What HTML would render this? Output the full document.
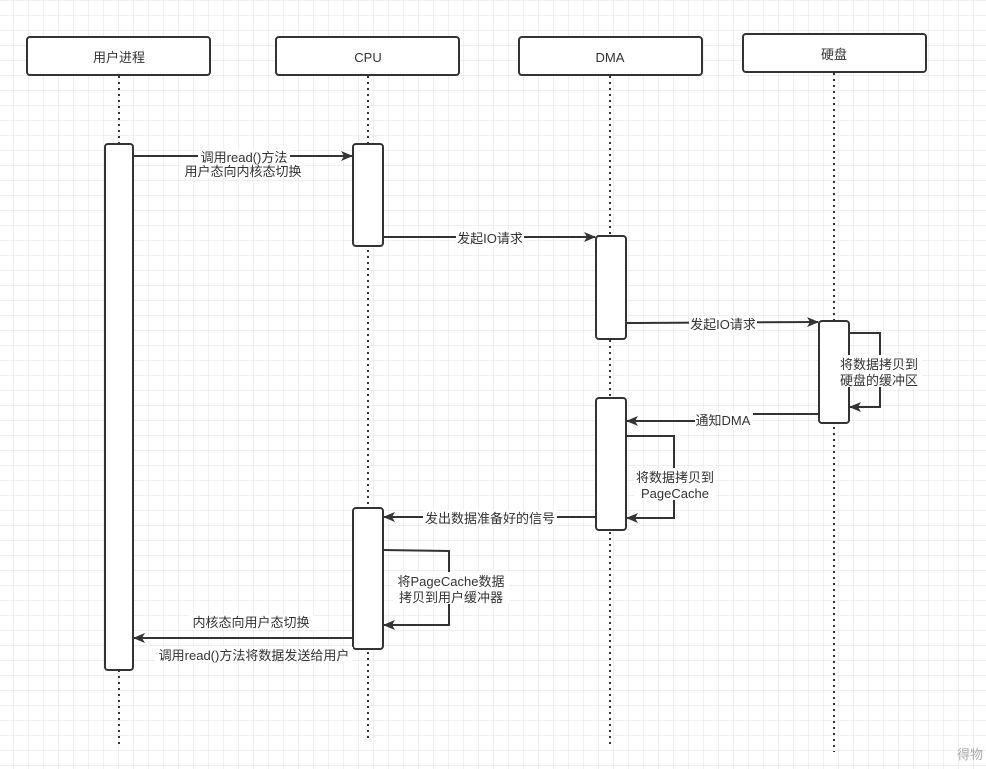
<!DOCTYPE html>
<html><head><meta charset="utf-8"><style>
html,body{margin:0;padding:0;background:#fff;}
svg{display:block;}
text{font-family:"Liberation Sans","Noto Sans CJK SC",sans-serif;font-size:13px;fill:#333;}
</style></head><body>
<svg width="986" height="769" viewBox="0 0 986 769" xmlns="http://www.w3.org/2000/svg">
<defs>
<pattern id="g" width="15" height="15" patternUnits="userSpaceOnUse" x="-1" y="1">
<path d="M15 0V15M0 15H15" fill="none" stroke="#e2e2e2" stroke-width="1"/>
</pattern>
<marker id="a" markerWidth="12" markerHeight="10" refX="11" refY="5" orient="auto" markerUnits="userSpaceOnUse">
<path d="M0,0 L12,5 L0,10 L3,5 Z" fill="#333"/>
</marker>
</defs>
<rect width="986" height="769" fill="url(#g)"/>
<g stroke="#333" stroke-width="2" fill="#fff">
<g stroke-dasharray="2,4">
<line x1="119" y1="76" x2="119" y2="745"/>
<line x1="368" y1="76" x2="368" y2="740"/>
<line x1="610" y1="76" x2="610" y2="748"/>
<line x1="834" y1="73" x2="834" y2="752"/>
</g>
<rect x="27" y="37" width="183" height="38" rx="3"/>
<rect x="276" y="37" width="183" height="38" rx="3"/>
<rect x="519" y="37" width="183" height="38" rx="3"/>
<rect x="743" y="34" width="183" height="38" rx="3"/>
<rect x="105" y="144" width="28" height="526" rx="3"/>
<rect x="353" y="144" width="30" height="102" rx="3"/>
<rect x="596" y="236" width="30" height="103" rx="3"/>
<rect x="819" y="321" width="30" height="102" rx="3"/>
<rect x="596" y="398" width="30" height="132" rx="3"/>
<rect x="353" y="508" width="30" height="141" rx="3"/>
<g fill="none">
<line x1="133" y1="156" x2="352" y2="156" marker-end="url(#a)"/>
<line x1="383" y1="237" x2="595" y2="237" marker-end="url(#a)"/>
<line x1="626" y1="323" x2="818" y2="322" marker-end="url(#a)"/>
<polyline points="849,333 880,333 880,407 850,407" marker-end="url(#a)"/>
<polyline points="819,414 752,414 700,421 627,421" marker-end="url(#a)"/>
<polyline points="626,436 674,436 674,518 627,518" marker-end="url(#a)"/>
<line x1="596" y1="517" x2="384" y2="517" marker-end="url(#a)"/>
<polyline points="383,550 449,551 449,625 384,625" marker-end="url(#a)"/>
<line x1="353" y1="638" x2="134" y2="638" marker-end="url(#a)"/>
</g>
</g>
<g fill="#fff">
<rect x="198" y="149" width="92" height="14"/>
<rect x="181" y="164" width="124" height="14"/>
<rect x="456" y="230" width="68" height="15"/>
<rect x="689" y="316" width="68" height="15"/>
<rect x="836" y="355" width="86" height="32"/>
<rect x="695" y="412" width="58" height="15"/>
<rect x="634" y="468" width="82" height="32"/>
<rect x="423" y="510" width="134" height="15"/>
<rect x="393" y="572" width="116" height="32"/>
<rect x="188" y="615" width="126" height="15"/>
<rect x="155" y="647" width="198" height="15"/>
</g>
<g text-anchor="middle">
<text x="119" y="62" font-size="13.5">用户进程</text>
<text x="368" y="62" font-size="13.5">CPU</text>
<text x="610" y="62" font-size="13.5">DMA</text>
<text x="834" y="59" font-size="13.5">硬盘</text>
<text x="244" y="162">调用read()方法</text>
<text x="243" y="176">用户态向内核态切换</text>
<text x="490" y="243">发起IO请求</text>
<text x="723" y="329">发起IO请求</text>
<text x="879" y="369">将数据拷贝到</text>
<text x="879" y="385">硬盘的缓冲区</text>
<text x="723" y="425">通知DMA</text>
<text x="675" y="482">将数据拷贝到</text>
<text x="675" y="498">PageCache</text>
<text x="490" y="523">发出数据准备好的信号</text>
<text x="451" y="586">将PageCache数据</text>
<text x="451" y="602">拷贝到用户缓冲器</text>
<text x="251" y="627">内核态向用户态切换</text>
<text x="254" y="660">调用read()方法将数据发送给用户</text>
</g>
<text x="957" y="759" font-size="10" style="fill:#aaa">得物</text>
</svg>
</body></html>
